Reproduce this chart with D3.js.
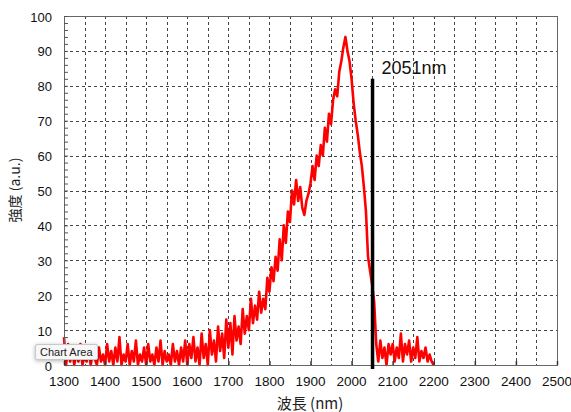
<!DOCTYPE html>
<html>
<head>
<meta charset="utf-8">
<script src="https://cdn.jsdelivr.net/npm/d3@7"></script>
<style>
  body { margin: 0; background: #fff; }
  svg { font-family: "Liberation Sans", Arial, Helvetica, sans-serif; }
  .tip {
    position: absolute; left: 35px; top: 344px;
    font: 11px/12px "Liberation Sans", Arial, sans-serif; color: #222;
    background: #f7f7f7; border: 1px solid #c8c8c8; border-radius: 2px;
    padding: 1px 4px; box-shadow: 0 1px 4px rgba(0,0,0,0.3);
  }
</style>
</head>
<body>
<div id="chart"></div>
<div class="tip">Chart Area</div>
<script>
// wavelength grid (nm) and measured intensity, one value per 5 nm
const wlStart = 1300;
const wlStep = 5;
const intensity = [
  // 1300
  8, 0, 6, 1, 5, 0, 4, 1, 6, 0, 3, 1, 5, 0, 4, 2, 0, 5, 1, 3,
  // 1400
  0, 6, 1, 4, 0, 5, 1, 8, 0, 3, 1, 6, 0, 4, 1, 7, 0, 3, 1, 5,
  // 1500
  0, 6, 1, 3, 0, 5, 1, 7, 0, 4, 1, 3, 0, 6, 1, 4, 0, 5, 1, 7,
  // 1600
  0, 6, 2, 8, 1, 5, 0, 9, 2, 6, 0, 10, 3, 7, 1, 11, 4, 9, 2, 13,
  // 1700
  5, 12, 3, 14, 7, 11, 6, 16, 9, 14, 10, 19, 12, 17, 13, 21, 15, 19, 16, 25,
  // 1800
  21, 28, 24, 31, 27, 36, 30, 40, 35, 44, 41, 50, 46, 53, 47, 51, 45, 43, 47, 49,
  // 1900
  52, 57, 53, 60, 57, 63, 60, 68, 64, 72, 69, 76, 79, 77, 84, 87, 91, 94, 90, 87,
  // 2000
  82, 75, 70, 66, 61, 57, 51, 44, 31, 27, 23, 18, 6, 1, 7, 2, 5, 0, 6, 3,
  // 2100
  6, 1, 5, 2, 9, 1, 6, 3, 7, 1, 5, 2, 8, 1, 4, 2, 5, 1, 3, 1,
  // 2200
  0
];
const xTicks = [1300, 1400, 1500, 1600, 1700, 1800, 1900, 2000, 2100, 2200, 2300, 2400, 2500];
const yTicks = [0, 10, 20, 30, 40, 50, 60, 70, 80, 90, 100];
const markerWl = 2051;
const markerTop = 82;
const markerLabel = '2051nm';

const width = 571;
const height = 412;
const margin = { top: 16, right: 14, bottom: 47, left: 64 };

const data = intensity.map((v, i) => ({ wl: wlStart + i * wlStep, v }));

const svg = d3.select('#chart')
  .append('svg')
  .attr('width', width)
  .attr('height', height);

const x = d3.scaleLinear().domain([1300, 2500]).range([margin.left, width - margin.right]);
const y = d3.scaleLinear().domain([0, 100]).range([height - margin.bottom, margin.top]);

/**
 * dashed grid
 */
const grid = svg.append('g')
  .attr('stroke', '#444')
  .attr('stroke-width', 1)
  .attr('stroke-dasharray', '3,3');

grid.selectAll('.gx')
  .data(d3.range(1350, 2500, 50))
  .enter()
  .append('line')
  .attr('x1', d => Math.round(x(d)) + 0.5)
  .attr('x2', d => Math.round(x(d)) + 0.5)
  .attr('y1', y(100))
  .attr('y2', y(0));

grid.selectAll('.gy')
  .data(yTicks.slice(1, -1))
  .enter()
  .append('line')
  .attr('y1', d => Math.round(y(d)) + 0.5)
  .attr('y2', d => Math.round(y(d)) + 0.5)
  .attr('x1', x(1300))
  .attr('x2', x(2500));

// spectrum
svg.append('path')
  .datum(data)
  .attr('fill', 'none')
  .attr('stroke', '#ff0000')
  .attr('stroke-width', 2.6)
  .attr('stroke-linejoin', 'round')
  .attr('d', d3.line().x(d => x(d.wl)).y(d => y(d.v)));

// frame
svg.append('rect')
  .attr('x', x(1300) + 0.5)
  .attr('y', y(100) + 0.5)
  .attr('width', x(2500) - x(1300))
  .attr('height', y(0) - y(100))
  .attr('fill', 'none')
  .attr('stroke', '#666')
  .attr('stroke-width', 1);

// axes: ticks drawn inward
const yAxis = svg.append('g')
  .attr('transform', `translate(${x(1300)},0)`)
  .call(d3.axisLeft(y).tickValues(d3.range(0, 101, 2)).tickSize(-4).tickFormat(''));
yAxis.select('.domain').remove();
yAxis.selectAll('line').attr('stroke', '#555');

svg.append('g')
  .selectAll('text')
  .data(yTicks)
  .enter()
  .append('text')
  .attr('x', 52)
  .attr('y', d => y(d) + 1)
  .attr('dy', '0.35em')
  .attr('text-anchor', 'end')
  .attr('font-size', 13)
  .attr('fill', '#111')
  .text(d => d);

const xAxis = svg.append('g')
  .attr('transform', `translate(0,${y(0)})`)
  .call(d3.axisBottom(x).tickValues(xTicks).tickSize(-4).tickFormat(''));
xAxis.select('.domain').remove();
xAxis.selectAll('line').attr('stroke', '#333').attr('stroke-width', 1.5);

svg.append('g')
  .selectAll('text')
  .data(xTicks)
  .enter()
  .append('text')
  .attr('x', d => x(d))
  .attr('y', 386)
  .attr('text-anchor', 'middle')
  .attr('font-size', 13.5)
  .attr('fill', '#111')
  .text(d => d);

// marker line at the cutoff wavelength
svg.append('line')
  .attr('x1', x(markerWl))
  .attr('x2', x(markerWl))
  .attr('y1', y(0) + 4)
  .attr('y2', y(markerTop))
  .attr('stroke', '#000')
  .attr('stroke-width', 3.5);

svg.append('text')
  .attr('x', x(markerWl) + 9)
  .attr('y', 74)
  .attr('font-size', 18)
  .attr('fill', '#111')
  .text(markerLabel);

// axis titles
svg.append('text')
  .attr('transform', 'translate(20,190) rotate(-90)')
  .attr('text-anchor', 'middle')
  .attr('font-size', 14)
  .attr('font-family', '"Noto Sans CJK JP", "Liberation Sans", sans-serif')
  .attr('fill', '#222')
  .text('強度 (a.u.)');

svg.append('text')
  .attr('x', 310)
  .attr('y', 409)
  .attr('text-anchor', 'middle')
  .attr('font-size', 15)
  .attr('font-family', '"Noto Sans CJK JP", "Liberation Sans", sans-serif')
  .attr('fill', '#222')
  .text('波長 (nm)');
</script>
</body>
</html>
